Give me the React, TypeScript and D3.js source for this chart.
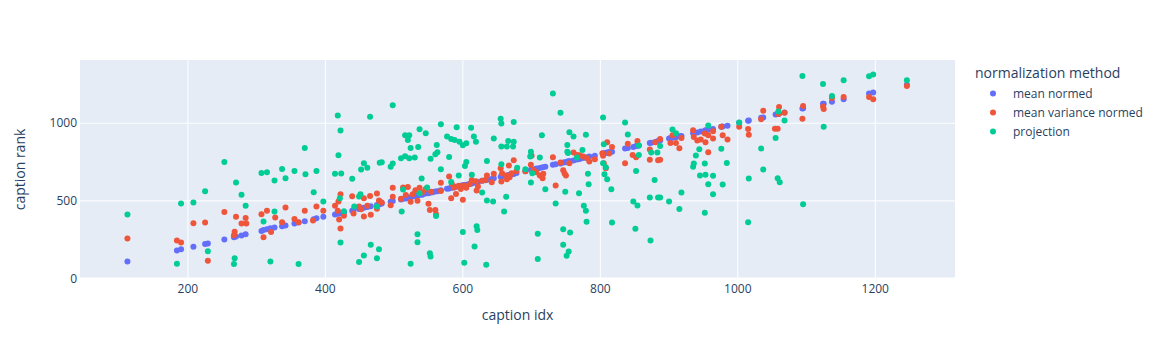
import React, { useEffect, useRef } from 'react'
import * as d3 from 'd3'

const width = 1168
const height = 360
const margin = { left: 80, right: 213, top: 60, bottom: 81 }
const fontFamily = '"Open Sans", verdana, arial, sans-serif'
const textColor = '#2a3f5f'

const xTicks = [200, 400, 600, 800, 1000, 1200]
const yTicks = [0, 500, 1000]

const seriesNames = ['mean normed', 'mean variance normed', 'projection']
const seriesColors = ['#636efa', '#EF553B', '#00cc96']

// [caption idx, caption rank]
const meanNormed = [
	[112, 110], [184, 181], [190, 189], [208, 205], [225, 222], [229, 226], [253, 252], [267, 265], [270, 270], [278, 277],
	[284, 285], [307, 306], [310, 312], [315, 318], [320, 323], [326, 329], [337, 336], [342, 341], [355, 354], [361, 360],
	[370, 369], [383, 381], [387, 388], [397, 397], [414, 413], [419, 417], [422, 421], [427, 425], [439, 437], [441, 442],
	[449, 448], [452, 451], [456, 456], [461, 460], [466, 465], [475, 474], [479, 478], [482, 483], [495, 494], [498, 499],
	[510, 509], [513, 514], [517, 516], [520, 521], [524, 523], [527, 528], [531, 530], [534, 535], [537, 538], [541, 540],
	[546, 547], [550, 549], [553, 554], [556, 555], [560, 561], [563, 562], [568, 568], [577, 578], [580, 579], [583, 584],
	[587, 586], [590, 591], [594, 593], [597, 598], [600, 601], [602, 603], [605, 604], [610, 611], [613, 612], [616, 617],
	[619, 620], [622, 621], [628, 629], [633, 632], [635, 636], [642, 641], [645, 646], [655, 656], [657, 658], [664, 663],
	[668, 669], [671, 672], [674, 673], [678, 679], [691, 690], [699, 700], [703, 702], [707, 708], [712, 711], [716, 717],
	[720, 719], [731, 732], [735, 736], [742, 741], [746, 747], [749, 748], [752, 753], [755, 756], [761, 760], [766, 767],
	[770, 769], [775, 776], [779, 780], [782, 781], [784, 785], [792, 791], [804, 805], [806, 807], [808, 809], [810, 811],
	[813, 814], [817, 816], [836, 837], [840, 841], [848, 847], [852, 853], [854, 855], [856, 857], [872, 873], [874, 875],
	[880, 879], [884, 885], [887, 888], [900, 901], [902, 903], [905, 906], [910, 909], [915, 916], [918, 917], [935, 936],
	[937, 938], [941, 940], [946, 947], [952, 951], [953, 954], [957, 958], [964, 963], [976, 977], [978, 979], [985, 984],
	[1002, 1003], [1015, 1016], [1016, 1017], [1034, 1035], [1037, 1036], [1055, 1056], [1058, 1059], [1060, 1061],
	[1068, 1069], [1094, 1095], [1095, 1096], [1124, 1125], [1125, 1126], [1137, 1138], [1154, 1155], [1191, 1192],
	[1197, 1198], [1246, 1247],
]

const meanVarianceNormed = [
	[112, 257], [184, 245], [190, 232], [208, 356], [225, 360], [229, 114], [253, 429], [270, 397], [268, 302], [267, 279],
	[278, 354], [284, 390], [285, 354], [307, 414], [315, 436], [310, 266], [321, 300], [327, 393], [337, 363], [342, 457],
	[355, 384], [361, 363], [370, 436], [382, 373], [387, 463], [397, 436], [414, 468], [419, 496], [422, 543], [418, 436],
	[420, 380], [427, 405], [422, 322], [439, 530], [441, 418], [449, 463], [452, 446], [456, 517], [461, 468], [456, 399],
	[465, 532], [466, 410], [475, 548], [478, 503], [475, 449], [479, 496], [482, 489], [498, 584], [495, 472], [498, 526],
	[510, 513], [513, 586], [517, 538], [520, 590], [524, 494], [527, 543], [531, 569], [534, 500], [537, 584], [541, 556],
	[546, 577], [550, 481], [552, 442], [554, 558], [560, 442], [561, 414], [568, 616], [568, 564], [580, 657], [584, 609],
	[583, 517], [587, 586], [590, 545], [594, 597], [597, 577], [600, 508], [602, 599], [605, 584], [610, 609], [613, 635],
	[619, 627], [620, 566], [622, 592], [628, 629], [633, 635], [635, 663], [642, 620], [645, 674], [655, 710], [657, 678],
	[656, 624], [664, 663], [664, 639], [668, 652], [671, 678], [674, 762], [678, 693], [667, 727], [691, 691], [700, 790],
	[699, 732], [703, 699], [707, 684], [712, 663], [716, 646], [717, 674], [731, 781], [735, 599], [742, 747], [746, 697],
	[748, 676], [750, 663], [755, 742], [761, 811], [766, 796], [770, 794], [775, 785], [781, 775], [784, 753], [792, 768],
	[803, 807], [810, 877], [817, 847], [805, 742], [808, 710], [804, 790], [813, 805], [836, 742], [840, 867], [847, 796],
	[852, 781], [854, 886], [872, 830], [872, 764], [884, 762], [880, 877], [887, 899], [887, 764], [902, 873], [905, 922],
	[910, 873], [915, 839], [918, 905], [935, 955], [936, 912], [941, 888], [946, 895], [952, 933], [953, 877], [957, 922],
	[964, 948], [964, 901], [957, 813], [976, 978], [978, 922], [985, 895], [1002, 978], [1015, 963], [1016, 925],
	[1034, 1025], [1037, 1081], [1054, 965], [1058, 965], [1060, 1105], [1059, 1060], [1068, 1068], [1094, 1028],
	[1095, 1111], [1124, 1107], [1125, 1092], [1137, 1163], [1154, 1169], [1191, 1169], [1197, 1154], [1246, 1240],
]

const projection = [
	[112, 412], [184, 95], [190, 483], [208, 489], [225, 562], [229, 176], [253, 751], [270, 618], [278, 539], [284, 468],
	[268, 131], [267, 93], [310, 367], [307, 680], [315, 684], [326, 631], [326, 431], [337, 706], [342, 646], [355, 693],
	[320, 109], [361, 93], [370, 841], [371, 672], [383, 556], [387, 693], [397, 496], [418, 1049], [422, 953], [419, 794],
	[414, 674], [423, 676], [421, 517], [427, 434], [422, 232], [439, 642], [449, 107], [456, 148], [466, 217], [475, 131],
	[465, 1041], [456, 742], [452, 702], [461, 714], [449, 528], [451, 543], [442, 463], [475, 463], [479, 746], [478, 189],
	[498, 1116], [482, 749], [495, 719], [498, 740], [511, 431], [513, 573], [510, 775], [516, 787], [522, 775], [530, 779],
	[516, 922], [522, 922], [520, 892], [524, 841], [537, 961], [546, 935], [535, 847], [540, 644], [537, 549], [548, 586],
	[553, 772], [560, 800], [562, 860], [563, 813], [568, 993], [568, 704], [561, 403], [534, 285], [534, 234], [552, 163],
	[553, 142], [524, 95], [577, 914], [583, 899], [588, 892], [595, 880], [591, 974], [600, 858], [605, 871], [580, 783],
	[583, 622], [594, 663], [603, 725], [605, 751], [612, 970], [616, 914], [619, 880], [613, 669], [628, 554], [635, 757],
	[600, 300], [620, 337], [621, 313], [617, 206], [602, 101], [634, 88], [635, 502], [644, 496], [645, 901], [655, 1028],
	[656, 998], [674, 1008], [656, 850], [664, 850], [666, 886], [674, 880], [673, 850], [656, 736], [660, 431], [663, 526],
	[679, 714], [691, 704], [699, 817], [698, 785], [715, 922], [712, 779], [701, 678], [699, 618], [720, 575], [709, 288],
	[709, 125], [731, 1191], [742, 1068], [755, 942], [761, 914], [752, 860], [752, 817], [753, 809], [766, 779], [774, 828],
	[779, 925], [735, 483], [749, 558], [769, 549], [776, 468], [779, 436], [782, 674], [783, 607], [780, 365], [746, 318],
	[756, 296], [746, 217], [754, 174], [751, 146], [804, 1036], [805, 865], [804, 742], [808, 716], [806, 672], [810, 640],
	[816, 575], [817, 360], [836, 1004], [840, 927], [852, 693], [848, 496], [854, 470], [851, 320], [856, 856], [856, 796],
	[874, 811], [883, 811], [879, 635], [872, 521], [884, 521], [873, 245], [900, 496], [887, 521], [887, 854], [915, 448],
	[918, 554], [905, 959], [910, 935], [957, 985], [944, 832], [939, 792], [935, 719], [936, 740], [952, 740], [945, 663],
	[953, 669], [964, 661], [957, 607], [964, 543], [978, 605], [952, 423], [976, 835], [984, 744], [1002, 1004],
	[1016, 644], [1015, 363], [1034, 837], [1037, 702], [1055, 905], [1058, 646], [1061, 620], [1059, 1075], [1068, 1017],
	[1094, 1304], [1095, 478], [1124, 1253], [1125, 978], [1137, 1176], [1154, 1276], [1191, 1302], [1197, 1313],
	[1246, 1276],
]

const allSeries = [meanNormed, meanVarianceNormed, projection]

export default function App() {
	const svgRef = useRef(null)

	useEffect(() => {
		const svg = d3.select(svgRef.current)
		svg.selectAll('*').remove()

		const plotW = width - margin.left - margin.right
		const plotH = height - margin.top - margin.bottom
		const x = d3.scaleLinear().domain([43, 1316]).range([margin.left, margin.left + plotW])
		const y = d3.scaleLinear().domain([-3, 1407]).range([margin.top + plotH, margin.top])

		// background
		svg.append('rect')
			.attr('x', margin.left)
			.attr('y', margin.top)
			.attr('width', plotW)
			.attr('height', plotH)
			.attr('fill', '#E5ECF6')

		// grid
		const grid = svg.append('g')
		grid.selectAll('line.xg').data(xTicks).enter().append('line')
			.attr('x1', (d) => x(d)).attr('x2', (d) => x(d))
			.attr('y1', margin.top).attr('y2', margin.top + plotH)
			.attr('stroke', 'white').attr('stroke-width', 1)
		grid.selectAll('line.yg').data(yTicks).enter().append('line')
			.attr('x1', margin.left).attr('x2', margin.left + plotW)
			.attr('y1', (d) => y(d)).attr('y2', (d) => y(d))
			.attr('stroke', 'white').attr('stroke-width', (d) => (d === 0 ? 2 : 1))

		// tick labels
		svg.append('g').selectAll('text').data(xTicks).enter().append('text')
			.attr('x', (d) => x(d))
			.attr('y', 293)
			.attr('text-anchor', 'middle')
			.attr('font-family', fontFamily).attr('font-size', 12).attr('fill', textColor)
			.text((d) => d)
		svg.append('g').selectAll('text').data(yTicks).enter().append('text')
			.attr('x', 77)
			.attr('y', (d) => y(d))
			.attr('dy', '0.35em')
			.attr('text-anchor', 'end')
			.attr('font-family', fontFamily).attr('font-size', 12).attr('fill', textColor)
			.text((d) => d)

		// axis titles
		svg.append('text')
			.attr('x', margin.left + plotW / 2)
			.attr('y', 320)
			.attr('text-anchor', 'middle')
			.attr('font-family', fontFamily).attr('font-size', 14).attr('fill', textColor)
			.text('caption idx')
		svg.append('text')
			.attr('transform', `translate(25, ${margin.top + plotH / 2}) rotate(-90)`)
			.attr('text-anchor', 'middle')
			.attr('font-family', fontFamily).attr('font-size', 14).attr('fill', textColor)
			.text('caption rank')

		// points
		allSeries.forEach((data, i) => {
			svg.append('g').selectAll('circle').data(data).enter().append('circle')
				.attr('cx', (d) => x(d[0]))
				.attr('cy', (d) => y(d[1]))
				.attr('r', 3)
				.attr('fill', seriesColors[i])
		})

		// legend
		const legend = svg.append('g')
		legend.append('text')
			.attr('x', 975).attr('y', 73).attr('dy', '0.35em')
			.attr('font-family', fontFamily).attr('font-size', 14).attr('fill', textColor)
			.text('normalization method')
		seriesNames.forEach((name, i) => {
			const ly = 93.5 + i * 19
			legend.append('circle').attr('cx', 993).attr('cy', ly).attr('r', 3).attr('fill', seriesColors[i])
			legend.append('text')
				.attr('x', 1013).attr('y', ly).attr('dy', '0.35em')
				.attr('font-family', fontFamily).attr('font-size', 12).attr('fill', textColor)
				.text(name)
		})
	}, [])

	return (
		<svg ref={svgRef} width={width} height={height}
			style={{ position: 'absolute', left: 0, top: 0, background: 'white' }} />
	)
}
